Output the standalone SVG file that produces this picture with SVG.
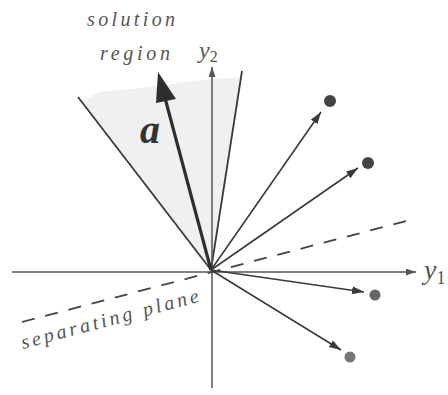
<svg xmlns="http://www.w3.org/2000/svg" width="448" height="395" viewBox="0 0 448 395">
<style>
.lbl{font-family:"Liberation Serif","DejaVu Serif","Times New Roman",serif;font-style:italic;fill:#555;}
.ln{stroke:#3a3a3a;stroke-width:1.8;fill:none;}
.ax{stroke:#555;stroke-width:1.5;fill:none;}
.vec{stroke:#3a3a3a;stroke-width:1.6;fill:none;marker-end:url(#ah);}
.dot{fill:#444;}
</style>
<defs>
<marker id="ah" markerUnits="userSpaceOnUse" markerWidth="14" markerHeight="10" refX="12" refY="4" orient="auto">
<path d="M0,0 L12,4 L0,8 Z" fill="#3a3a3a"/>
</marker>
<marker id="axh" markerUnits="userSpaceOnUse" markerWidth="12" markerHeight="8" refX="10" refY="3.5" orient="auto">
<path d="M0,0 L10,3.5 L0,7 Z" fill="#555"/>
</marker>
</defs>
<rect width="448" height="395" fill="#fff"/>
<g id="solution-region">
<polygon points="211,270 82,101 100,92 150,87 200,80 241,77" fill="#f0f0f0"/>
<line class="ln" x1="211" y1="270" x2="78" y2="97"/>
<line class="ln" x1="211" y1="270" x2="242" y2="71"/>
</g>
<g id="axes">
<line class="ax" x1="12" y1="272" x2="416" y2="272" marker-end="url(#axh)"/>
<line class="ax" x1="212" y1="388" x2="212" y2="67" marker-end="url(#axh)"/>
</g>
<g id="separating-plane">
<line x1="22" y1="322" x2="410" y2="220" stroke="#444" stroke-width="1.8" stroke-dasharray="13 11"/>
</g>
<g id="connectors">
<line class="vec" x1="211" y1="270" x2="321" y2="112"/>
<line class="vec" x1="211" y1="270" x2="358" y2="168"/>
<line class="vec" x1="211" y1="270" x2="364" y2="292"/>
<line class="vec" x1="211" y1="270" x2="341" y2="350"/>
</g>
<g id="vector-a">
<line x1="211" y1="270" x2="165" y2="98" stroke="#2e2e2e" stroke-width="3.2"/>
<polygon points="158,72 156,103 176,99" fill="#2e2e2e"/>
<text class="lbl" x="140" y="143" font-weight="bold" font-size="40" fill="#333" style="fill:#333">a</text>
</g>
<g id="samples">
<circle class="dot" cx="330" cy="101" r="6"/>
<circle class="dot" cx="368" cy="163" r="6"/>
<circle cx="375" cy="295" r="5.5" fill="#666"/>
<circle cx="350" cy="357" r="5.5" fill="#777"/>
</g>
<g id="labels">
<text class="lbl" x="87" y="26" font-size="20" textLength="88" lengthAdjust="spacing">solution</text>
<text class="lbl" x="100" y="60" font-size="20" textLength="70" lengthAdjust="spacing">region</text>
<text class="lbl" x="199" y="58" font-size="24">y<tspan font-size="16" dy="4" font-style="normal">2</tspan></text>
<text class="lbl" x="424" y="279" font-size="28">y<tspan font-size="18" dy="5" font-style="normal">1</tspan></text>
<text class="lbl" x="23" y="349" font-size="20" textLength="183" lengthAdjust="spacing" transform="rotate(-15 23 349)">separating plane</text>
</g>
</svg>
